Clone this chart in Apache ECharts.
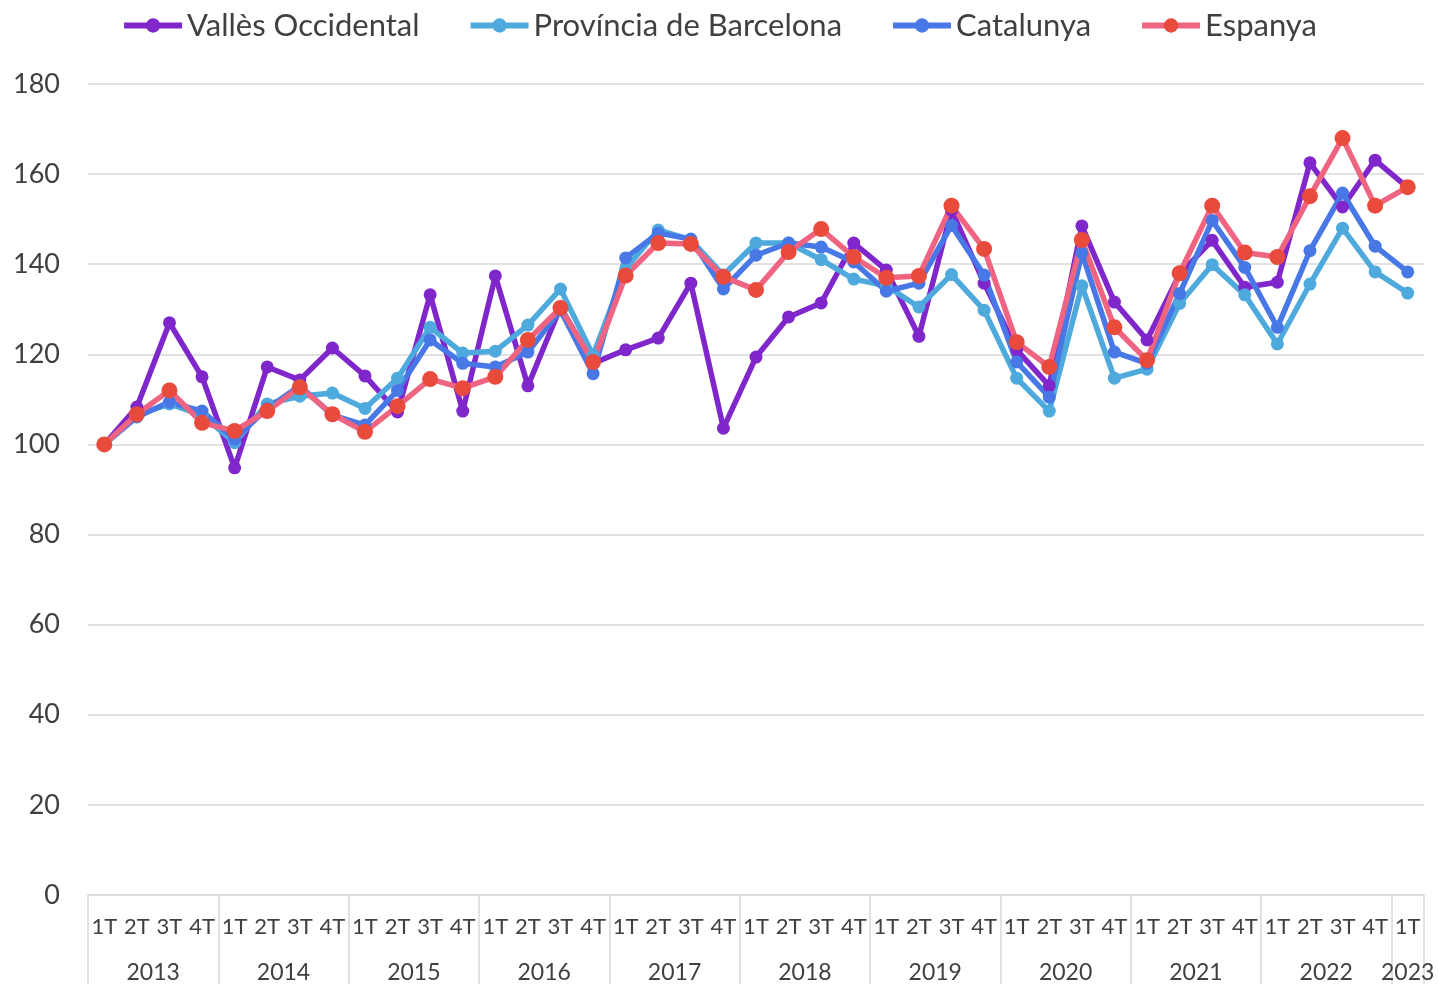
<!DOCTYPE html>
<html>
<head>
<meta charset="utf-8">
<script src="https://cdn.jsdelivr.net/npm/echarts@6/dist/echarts.min.js"></script>
<style>
  html, body { margin: 0; padding: 0; background: #fff; }
  #chart { width: 1438px; height: 984px; }
</style>
</head>
<body>
<div id="chart"></div>
<script>
// trimestres 2013 1T - 2023 1T
var years = ['2013', '2014', '2015', '2016', '2017', '2018', '2019', '2020', '2021', '2022', '2023'];
var quarters = [];
years.forEach(function (y) {
  var n = y === '2023' ? 1 : 4;
  for (var q = 1; q <= n; q++) quarters.push(q + 'T');
});

var seriesNames = ['Vallès Occidental', 'Província de Barcelona', 'Catalunya', 'Espanya'];

var valles = [100, 108.3, 127, 115, 94.8, 117.2, 114.3, 121.4, 115.2, 107.2, 133.2, 107.4, 137.4, 113, 130.5, 118,
  121, 123.6, 135.8, 103.6, 119.4, 128.3, 131.4, 144.7, 138.7, 124, 152, 135.8, 121, 113, 148.5, 131.6,
  123.2, 137.8, 145.3, 134.9, 136, 162.5, 152.7, 163.1, 157];
var provincia = [100, 106.5, 109, 106.5, 100.4, 109, 110.7, 111.4, 108, 114.7, 126, 120.3, 120.7, 126.5, 134.5, 119.8,
  139, 147.6, 145.4, 137.6, 144.7, 144.7, 141, 136.7, 135.2, 130.5, 137.7, 129.8, 114.7, 107.4, 135.2, 114.7,
  116.7, 131.3, 139.9, 133.2, 122.3, 135.6, 148, 138.3, 133.6];
var catalunya = [100, 106.1, 109.4, 107.4, 101.2, 108, 113, 106.5, 104.3, 112, 123.2, 118, 117.2, 120.5, 129.8, 115.7,
  141.4, 146.9, 145.6, 134.5, 142, 144.7, 143.8, 140.5, 134, 135.8, 148.6, 137.6, 118.3, 110.5, 142.5, 120.5,
  118, 133.5, 149.7, 139.3, 126, 143, 155.8, 144, 138.3];
var espanya = [100, 106.7, 112, 104.8, 103, 107.4, 112.7, 106.7, 102.8, 108.5, 114.5, 112.5, 115, 123.2, 130.3, 118.3,
  137.5, 144.7, 144.5, 137.2, 134.3, 142.7, 147.8, 141.6, 137, 137.4, 153, 143.4, 122.7, 117.2, 145.4, 126,
  118.7, 138, 153, 142.6, 141.6, 155.1, 168, 153, 157.1];

// eix auxiliar amb mitjos trimestres per centrar els anys i marcar separadors
var yearSlots = [];
for (var k = 0; k <= quarters.length * 2; k++) yearSlots.push('');
var pos = 0;
years.forEach(function (y) {
  var n = y === '2023' ? 1 : 4;
  yearSlots[pos * 2 + n] = y;
  pos += n;
});
var yearBounds = {};
pos = 0;
yearBounds[0] = true;
years.forEach(function (y) {
  pos += (y === '2023' ? 1 : 4);
  yearBounds[pos * 2] = true;
});

var textColor = '#404040';
var font = 'Lato';

var chart = echarts.init(document.getElementById('chart'));

function lineSeries(name, data, lineColor, dotColor, size) {
  return {
    name: name,
    type: 'line',
    data: data,
    xAxisIndex: 0,
    symbol: 'circle',
    symbolSize: size,
    showSymbol: true,
    lineStyle: { color: lineColor, width: 5.5 },
    itemStyle: { color: dotColor },
    emphasis: { disabled: true }
  };
}

var option = {
  animation: false,
  textStyle: { fontFamily: font },
  legend: {
    top: 5,
    left: 'center',
    itemWidth: 58,
    itemHeight: 18,
    itemGap: 48,
    lineStyle: { width: 6 },
    textStyle: { fontSize: 31, color: textColor, fontFamily: font },
    data: seriesNames
  },
  grid: { left: 88, right: 14, top: 84, bottom: 89, containLabel: false },
  xAxis: [{
    type: 'category',
    data: quarters,
    position: 'bottom',
    axisLine: { show: true, lineStyle: { color: '#d9d9d9', width: 1.5 } },
    axisTick: { show: false },
    axisLabel: { interval: 0, fontSize: 22, color: textColor, fontFamily: font, margin: 21 },
    splitLine: { show: false }
  }, {
    type: 'category',
    data: yearSlots,
    boundaryGap: false,
    position: 'bottom',
    axisLine: { show: false },
    axisTick: {
      show: true,
      length: 100,
      interval: function (i) { return !!yearBounds[i]; },
      lineStyle: { color: '#d9d9d9', width: 1.5 }
    },
    axisLabel: {
      interval: function (i, v) { return v !== ''; },
      fontSize: 23,
      color: textColor,
      fontFamily: font,
      margin: 66
    },
    splitLine: { show: false }
  }],
  yAxis: {
    type: 'value',
    min: 0,
    max: 180,
    interval: 20,
    axisLine: { show: false },
    axisTick: { show: false },
    axisLabel: { fontSize: 27, color: textColor, fontFamily: font, margin: 28 },
    splitLine: { lineStyle: { color: '#d9d9d9', width: 1.5 } }
  },
  series: [
    lineSeries(seriesNames[0], valles, '#7f27cb', '#7f27cb', 13),
    lineSeries(seriesNames[1], provincia, '#4ea9dd', '#4ea9dd', 13),
    lineSeries(seriesNames[2], catalunya, '#4878e6', '#4878e6', 13),
    lineSeries(seriesNames[3], espanya, '#ee6481', '#e84b3c', 16)
  ]
};

chart.setOption(option);
</script>
</body>
</html>
